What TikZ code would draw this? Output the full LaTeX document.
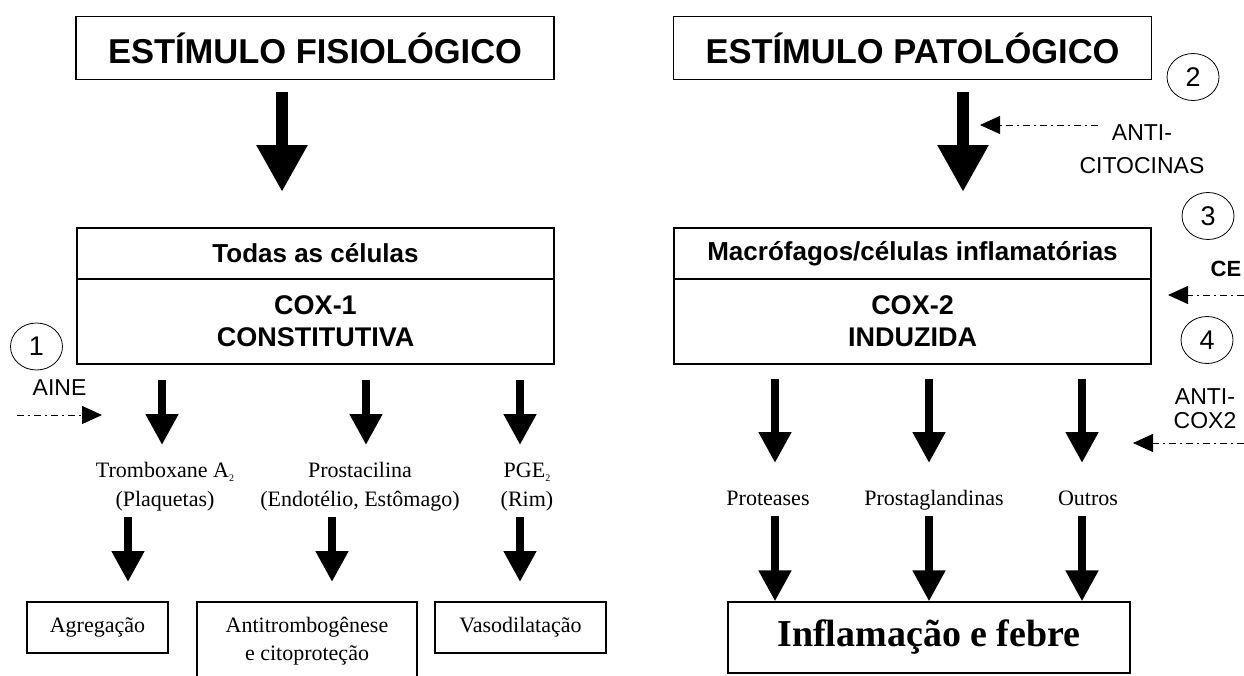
\documentclass[tikz,border=0pt]{standalone}
\usepackage{fontspec}
\setmainfont{Liberation Serif}
\setsansfont{Liberation Sans}
\usetikzlibrary{arrows.meta,shapes.geometric}

\newcommand{\lowtwo}{\raisebox{-4pt}{\fontsize{10}{10}\selectfont 2}}

\begin{document}
\begin{tikzpicture}[x=1pt,y=-1pt,
  titlebox/.style={draw,line width=1.6pt,minimum width=478pt,minimum height=63pt,inner sep=0pt,font=\sffamily\bfseries\fontsize{34.5}{36}\selectfont},
  cellbox/.style={draw,line width=1.6pt,minimum width=477pt,minimum height=51pt,inner sep=0pt,font=\sffamily\bfseries\fontsize{26}{28}\selectfont},
  coxbox/.style={draw,line width=1.6pt,minimum width=477pt,minimum height=85pt,inner sep=0pt,align=center,font=\sffamily\bfseries\fontsize{27}{32}\selectfont},
  lbl/.style={align=center,inner sep=0pt,font=\fontsize{22}{29}\selectfont},
  rlbl/.style={lbl,text height=15pt,text depth=5pt},
  endbox/.style={draw,line width=1.2pt,minimum height=51pt,inner sep=0pt,align=center,font=\fontsize{22}{28}\selectfont},
  numring/.style={draw,ellipse,line width=0.8pt,minimum width=52pt,minimum height=47pt,inner sep=0pt,font=\sffamily\fontsize{27}{30}\selectfont},
  drug/.style={align=center,inner sep=0pt,font=\sffamily\fontsize{23}{33}\selectfont},
  bigarrow/.style={line width=12pt,-{Triangle[width=48pt,length=47pt]}},
  smallarrow/.style={line width=8pt,-{Triangle[width=31pt,length=31pt]}},
  block/.style={line width=0.9pt,dash pattern=on 7pt off 4pt on 2pt off 4pt,-{Triangle[width=18pt,length=20pt]}}]
\useasboundingbox (0,0) rectangle (1244,675);
\node  (fisio) at (315,48)      [titlebox] {ESTÍMULO FISIOLÓGICO};
\node   (pato) at (912.5,48)    [titlebox] {ESTÍMULO PATOLÓGICO};
\node  (todas) at (315.5,253.5) [cellbox] {Todas as células};
\node   (cox1) at (315.5,321.5) [coxbox] {COX-1\\CONSTITUTIVA};
\node  (macro) at (912.5,253.5) [cellbox] {Macrófagos/células inflamatórias};
\node   (cox2) at (912.5,321.5) [coxbox] {COX-2\\INDUZIDA};
\node    (txa) at (165,487)     [lbl] {Tromboxane A\lowtwo\\(Plaquetas)};
\node    (pgi) at (360,487)     [lbl] {Prostacilina\\(Endotélio, Estômago)};
\node    (pge) at (527,487)     [lbl] {PGE\lowtwo\\(Rim)};
\node  (agreg) at (97.5,627.5)  [endbox,minimum width=141pt] {Agregação};
\node (antitr) at (307,641)     [endbox,minimum width=220pt,minimum height=78pt] {Antitrombogênese\\e citoproteção};
\node   (vaso) at (520.5,627.5) [endbox,minimum width=171pt] {Vasodilatação};
\node   (prot) at (768,500)     [rlbl] {Proteases};
\node    (pgs) at (934,500)     [rlbl] {Prostaglandinas};
\node (outros) at (1088,500)    [rlbl] {Outros};
\node   (infl) at (929,637.5)   [draw,line width=1.2pt,minimum width=402pt,minimum height=71pt,font=\bfseries\fontsize{38}{40}\selectfont] {Inflamação e febre};
\node     (n1) at (36.5,346.5)  [numring] {1};
\node     (n2) at (1193,77)     [numring] {2};
\node     (n3) at (1208,216)    [numring] {3};
\node     (n4) at (1207,340)    [numring] {4};
\node   (aine) at (59.5,388)    [drug] {AINE};
\node (anticit) at (1142,149.5) [drug] {ANTI-\\CITOCINAS};
\node     (ce) at (1226,269)    [drug,font=\sffamily\bfseries\fontsize{22}{24}\selectfont] {CE};
\node (anticox) at (1205,409)   [drug,font=\sffamily\fontsize{23}{24}\selectfont] {ANTI-\\COX2};
\coordinate (bl0) at (282,92);   \coordinate (bl1) at (282,192);
\coordinate (br0) at (963,92);   \coordinate (br1) at (963,192);
\coordinate (l1a) at (162,380);  \coordinate (l1b) at (162,445);
\coordinate (l2a) at (366,380);  \coordinate (l2b) at (366,445);
\coordinate (l3a) at (520,380);  \coordinate (l3b) at (520,445);
\coordinate (m1a) at (128,517);  \coordinate (m1b) at (128,582);
\coordinate (m2a) at (332,517);  \coordinate (m2b) at (332,582);
\coordinate (m3a) at (520,517);  \coordinate (m3b) at (520,582);
\coordinate (r1a) at (775,379);  \coordinate (r1b) at (775,463);
\coordinate (r2a) at (929,379);  \coordinate (r2b) at (929,463);
\coordinate (r3a) at (1082,379); \coordinate (r3b) at (1082,463);
\coordinate (s1a) at (775,516);  \coordinate (s2a) at (929,516);  \coordinate (s3a) at (1082,516);
\coordinate (ainea) at (17,415);   \coordinate (aineb) at (102,415);
\coordinate (cita) at (1098,125);  \coordinate (citb) at (980,125);
\coordinate (cea) at (1244,295);   \coordinate (ceb) at (1168,295);
\coordinate (coxa) at (1244,443);  \coordinate (coxb) at (1133,443);
\draw [bigarrow] (bl0) -- (bl1);
\draw [bigarrow] (br0) -- (br1);
\draw [smallarrow] (l1a) -- (l1b);
\draw [smallarrow] (l2a) -- (l2b);
\draw [smallarrow] (l3a) -- (l3b);
\draw [smallarrow] (m1a) -- (m1b);
\draw [smallarrow] (m2a) -- (m2b);
\draw [smallarrow] (m3a) -- (m3b);
\draw [smallarrow] (r1a) -- (r1b);
\draw [smallarrow] (r2a) -- (r2b);
\draw [smallarrow] (r3a) -- (r3b);
\draw [smallarrow] (s1a) -- (infl.north -| s1a);
\draw [smallarrow] (s2a) -- (infl.north -| s2a);
\draw [smallarrow] (s3a) -- (infl.north -| s3a);
\draw [block] (ainea) -- (aineb);
\draw [block] (cita) -- (citb);
\draw [block] (cea) -- (ceb);
\draw [block] (coxa) -- (coxb);
\end{tikzpicture}
\end{document}
